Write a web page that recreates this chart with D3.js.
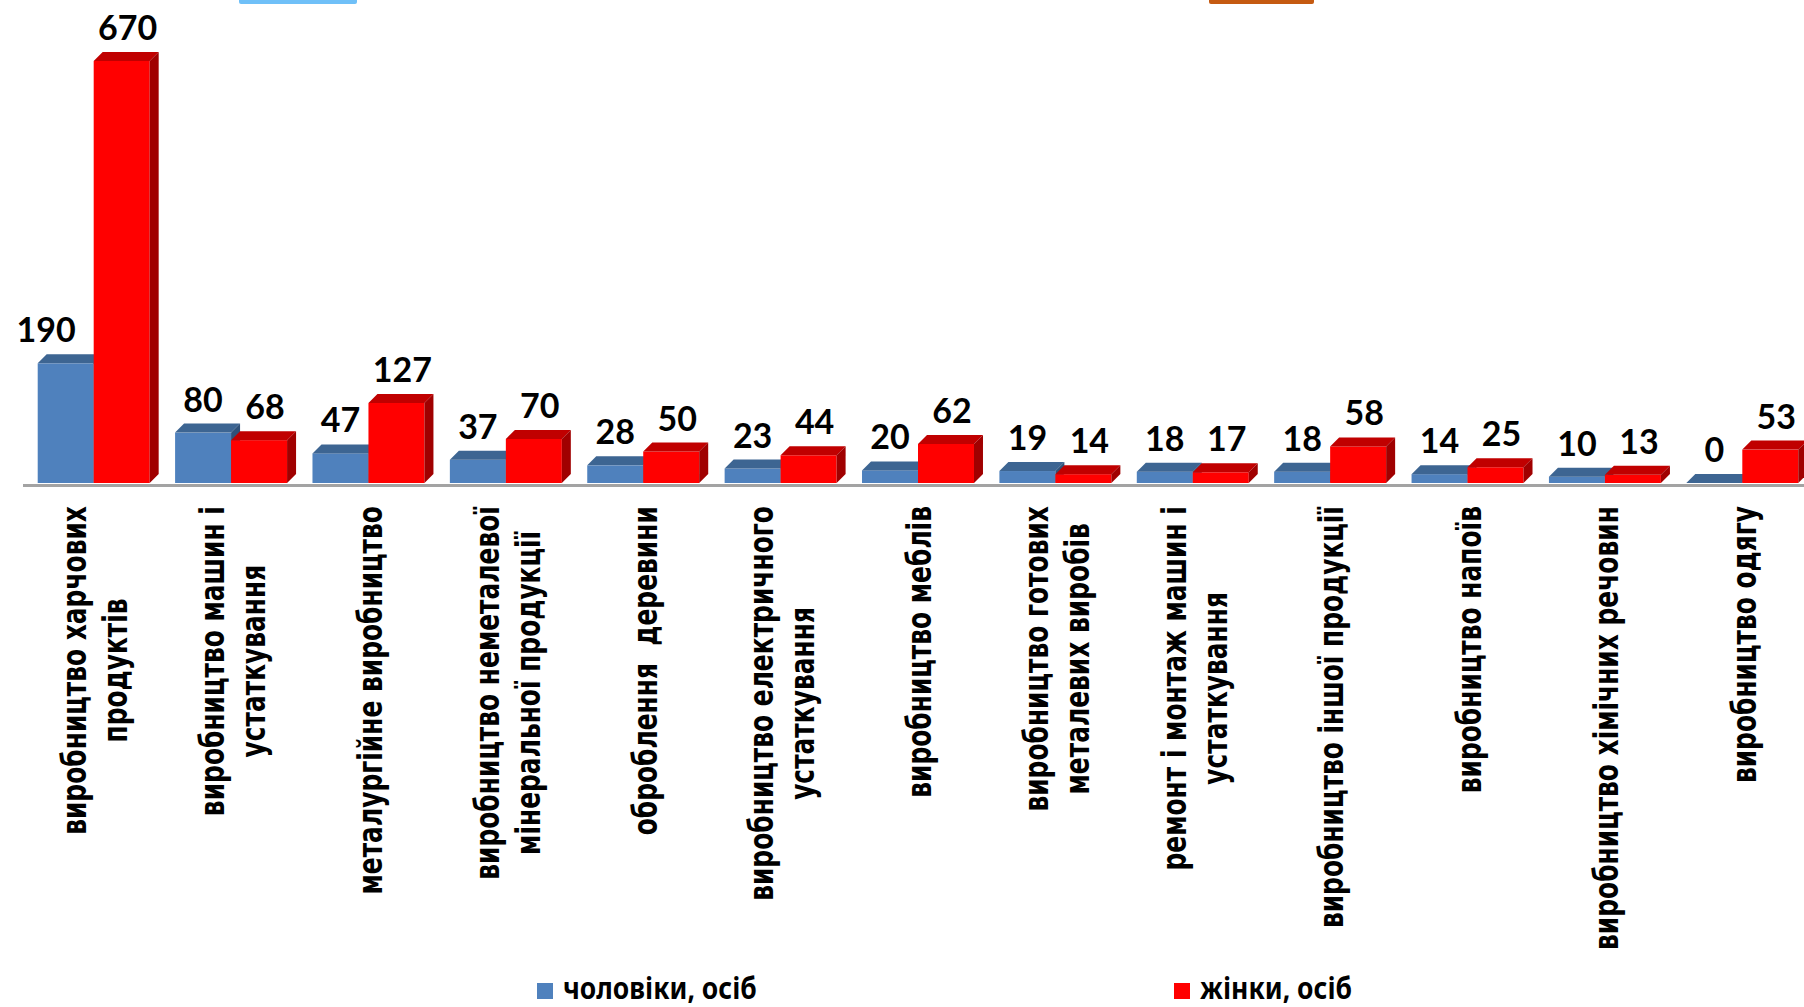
<!DOCTYPE html>
<html>
<head>
<meta charset="utf-8">
<script src="https://cdn.jsdelivr.net/npm/d3@7"></script>
<style>
  html, body { margin: 0; padding: 0; background: #fff; }
  svg { display: block; }
</style>
</head>
<body>
<svg id="chart" width="1804" height="1007"></svg>
<script>
// categories (label lines), one entry per group
var categories = [
	["виробництво харчових", "продуктів"],
	["виробництво машин і", "устаткування"],
	["металургійне виробництво"],
	["виробництво неметалевої", "мінеральної продукції"],
	["оброблення  деревини"],
	["виробництво електричного", "устаткування"],
	["виробництво меблів"],
	["виробництво готових", "металевих виробів"],
	["ремонт і монтаж машин і", "устаткування"],
	["виробництво іншої продукції"],
	["виробництво напоїв"],
	["виробництво хімічних речовин"],
	["виробництво одягу"]
];
var men = [190, 80, 47, 37, 28, 23, 20, 19, 18, 18, 14, 10, 0];
var women = [670, 68, 127, 70, 50, 44, 62, 14, 17, 58, 25, 13, 53];
var seriesNames = ["чоловіки, осіб", "жінки, осіб"];

var colors = [
	{ front: "#4F81BD", top: "#3D6592", side: "#2F5179" },
	{ front: "#FF0000", top: "#C00000", side: "#A00000" }
];

var svg = d3.select("#chart");
var depth = 9;
var floorY = 483;

var x = d3.scaleBand()
	.domain(d3.range(categories.length))
	.range([25, 1811])
	.paddingInner(0.185)
	.paddingOuter(0.0925);

var y = d3.scaleLinear()
	.domain([0, 670])
	.range([floorY, 61]);

// decorations cut off at the top of the slide
svg.append("rect").attr("x", 239).attr("y", -4).attr("width", 118).attr("height", 8).attr("rx", 2).attr("fill", "#6FC0F8");
svg.append("rect").attr("x", 1209).attr("y", -4).attr("width", 105).attr("height", 8).attr("rx", 2).attr("fill", "#C55A11");

// floor line
svg.append("line")
	.attr("x1", 23).attr("x2", 1804)
	.attr("y1", 485.5).attr("y2", 485.5)
	.attr("stroke", "#A3A3A3").attr("stroke-width", 3);

var bw = x.bandwidth() / 2;
var rows = [];
categories.forEach(function (c, i) {
	rows.push({ i: i, s: 0, v: men[i] });
	rows.push({ i: i, s: 1, v: women[i] });
});

function x0(d) { return x(d.i) + d.s * bw; }

var bars = svg.append("g").selectAll("g")
	.data(rows)
	.join("g");

bars.append("rect")
	.attr("x", x0)
	.attr("y", function (d) { return y(d.v); })
	.attr("width", bw)
	.attr("height", function (d) { return floorY - y(d.v); })
	.attr("fill", function (d) { return colors[d.s].front; });

bars.append("path")
	.attr("d", function (d) {
		var a = x0(d), t = y(d.v);
		return "M" + a + "," + t + "L" + (a + depth) + "," + (t - depth) + "L" + (a + bw + depth) + "," + (t - depth) + "L" + (a + bw) + "," + t + "Z";
	})
	.attr("fill", function (d) { return colors[d.s].top; });

bars.append("path")
	.attr("d", function (d) {
		var a = x0(d) + bw, t = y(d.v);
		return "M" + a + "," + t + "L" + (a + depth) + "," + (t - depth) + "L" + (a + depth) + "," + (floorY - depth) + "L" + a + "," + floorY + "Z";
	})
	.attr("fill", function (d) { return colors[d.s].side; });

// value labels
var vals = svg.append("g").selectAll("text")
	.data(rows)
	.join("text")
	.attr("x", function (d) { return x0(d) + bw / 2 + (d.s ? 6 : 0); })
	.attr("y", function (d) { return y(d.v) - depth - 12; })
	.attr("text-anchor", "middle")
	.attr("font-family", "Lato, 'Noto Sans', sans-serif")
	.attr("font-weight", 700)
	.attr("font-size", 34)
	.attr("fill", "#000")
	.text(function (d) { return d.v; });

// blue label is pushed left when it would touch the red bar
vals.each(function (d) {
	if (d.s) return;
	var w = this.getComputedTextLength();
	var cx = x0(d) + bw / 2;
	var limit = x0(d) + bw - 18;
	if (cx + w / 2 > x0(d) + bw - 4) d3.select(this).attr("x", limit - w / 2);
});

// category labels, rotated, top aligned under the floor
var squash = 0.755;
var lineGap = 41;
var labelTop = 506;
categories.forEach(function (lines, i) {
	var g = svg.append("g");
	var cx = x(i) + x.bandwidth() / 2 + 2;
	var texts = g.selectAll("text")
		.data(lines)
		.join("text")
		.attr("text-anchor", "middle")
		.attr("dominant-baseline", "central")
		.attr("font-family", "'DejaVu Sans', Verdana, sans-serif")
		.attr("font-weight", 700)
		.attr("font-size", 33)
		.style("white-space", "pre")
		.text(function (d) { return d; });
	var maxLen = d3.max(texts.nodes(), function (n) { return n.getComputedTextLength(); });
	var cy = labelTop + maxLen * squash / 2;
	texts.attr("transform", function (d, j) {
		var off = (j - (lines.length - 1) / 2) * lineGap;
		return "translate(" + (cx + off) + "," + cy + ") scale(1," + squash + ") rotate(-90)";
	});
});

// legend
var legendX = [537, 1174];
var legend = svg.append("g").selectAll("g")
	.data(seriesNames)
	.join("g")
	.attr("transform", function (d, i) { return "translate(" + legendX[i] + ",983)"; });
legend.append("rect")
	.attr("width", 16).attr("height", 16)
	.attr("fill", function (d, i) { return colors[i].front; });
legend.append("text")
	.attr("transform", "translate(26,16) scale(1,1.12)")
	.attr("font-family", "'Noto Sans', sans-serif")
	.attr("font-weight", 700)
	.attr("font-size", 26.5)
	.attr("fill", "#000")
	.text(function (d) { return d; });
</script>
</body>
</html>
